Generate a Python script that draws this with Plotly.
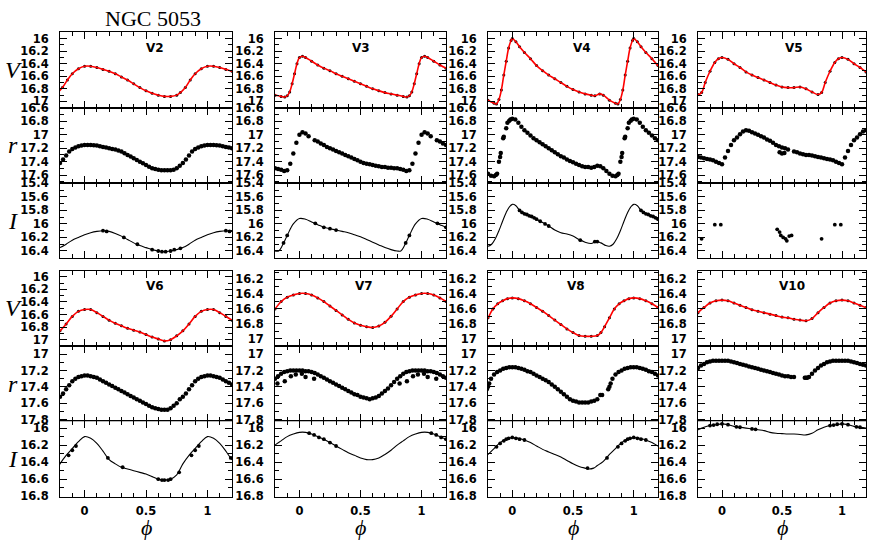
import plotly.graph_objects as go

# ---------------- data ----------------
G20 = [0.0, 0.05, 0.1, 0.15, 0.2, 0.25, 0.3, 0.35, 0.4, 0.45,
       0.5, 0.55, 0.6, 0.65, 0.7, 0.75, 0.8, 0.85, 0.9, 0.95]
R_PH = [0.0, 0.025, 0.05, 0.075, 0.1, 0.125, 0.15, 0.175, 0.2, 0.225,
        0.25, 0.275, 0.3, 0.325, 0.35, 0.375, 0.4, 0.425, 0.45, 0.475,
        0.5, 0.525, 0.55, 0.575, 0.6, 0.625, 0.65, 0.675, 0.7, 0.725,
        0.75, 0.775, 0.8, 0.825, 0.85, 0.875, 0.9, 0.925, 0.95, 0.975]

STAR_NAMES = ["V2", "V3", "V4", "V5", "V6", "V7", "V8", "V10"]
PHI_TICKS = [0, 0.5, 1]

# V2
V2_V_ph = [0.0, 0.05, 0.1, 0.15, 0.2, 0.25, 0.3, 0.35, 0.4, 0.45, 0.5, 0.55, 0.6, 0.65, 0.7, 0.75, 0.78, 0.82, 0.86, 0.9, 0.95]
V2_V = [16.44, 16.44, 16.46, 16.49, 16.52, 16.56, 16.61, 16.66, 16.72, 16.78, 16.83, 16.87, 16.90, 16.92, 16.92, 16.90, 16.86, 16.78, 16.66, 16.56, 16.48]
V2_r = [17.15, 17.15, 17.15, 17.155, 17.16, 17.17, 17.18, 17.19, 17.2, 17.21, 17.22, 17.235, 17.25, 17.275, 17.3, 17.325, 17.35, 17.375, 17.4, 17.425,
        17.45, 17.475, 17.5, 17.51, 17.52, 17.53, 17.53, 17.53, 17.53, 17.52, 17.5, 17.46, 17.42, 17.37, 17.31, 17.25, 17.21, 17.19, 17.17, 17.16]
V2_I_ph = G20
V2_I = [16.16, 16.13, 16.11, 16.10, 16.11, 16.14, 16.18, 16.23, 16.28, 16.32, 16.35, 16.38, 16.40, 16.41, 16.40, 16.38, 16.35, 16.30, 16.24, 16.20]
V2_Id_ph = [0.15, 0.18, 0.32, 0.43, 0.55, 0.6, 0.63, 0.66, 0.7, 0.73, 0.78]
V2_Id = [16.10, 16.11, 16.20, 16.30, 16.38, 16.40, 16.41, 16.41, 16.40, 16.38, 16.36]

# V3
V3_V_ph = [0.0, 0.025, 0.05, 0.1, 0.15, 0.2, 0.25, 0.3, 0.35, 0.4, 0.45, 0.5, 0.55, 0.6, 0.65, 0.7, 0.75, 0.8, 0.85, 0.88, 0.9, 0.92, 0.94, 0.96, 0.98]
V3_V = [16.30, 16.28, 16.30, 16.36, 16.42, 16.47, 16.51, 16.56, 16.60, 16.64, 16.68, 16.72, 16.76, 16.80, 16.83, 16.86, 16.88, 16.90, 16.92, 16.93, 16.91, 16.85, 16.72, 16.56, 16.40]
V3_r = [17.0, 16.96, 16.98, 17.02, None, 17.08, 17.1, 17.13, 17.15, 17.18, 17.2, 17.22, 17.24, 17.26, 17.28, 17.3, 17.32, 17.34, 17.36, 17.38,
        17.4, 17.42, 17.43, 17.44, 17.45, 17.46, 17.47, 17.48, 17.48, 17.49, 17.49, 17.5, 17.5, 17.51, 17.52, 17.54, 17.53, 17.43, 17.28, 17.12]
V3_I_ph = [0.0, 0.05, 0.1, 0.15, 0.2, 0.25, 0.3, 0.35, 0.4, 0.45, 0.5, 0.55, 0.6, 0.65, 0.7, 0.75, 0.8, 0.83, 0.86, 0.9, 0.95]
V3_I = [15.92, 15.93, 15.97, 16.01, 16.05, 16.07, 16.09, 16.11, 16.13, 16.16, 16.19, 16.23, 16.27, 16.31, 16.35, 16.38, 16.40, 16.40, 16.32, 16.17, 16.00]
V3_Id_ph = [0.13, 0.2, 0.25, 0.3, 0.87, 0.9]
V3_Id = [15.99, 16.05, 16.07, 16.09, 16.28, 16.17]

# V4
V4_V_ph = [0.0, 0.03, 0.06, 0.1, 0.15, 0.2, 0.25, 0.3, 0.35, 0.4, 0.45, 0.5, 0.55, 0.6, 0.65, 0.68, 0.72, 0.75, 0.8, 0.85, 0.87, 0.89, 0.91, 0.93, 0.95, 0.97, 0.99]
V4_V = [16.00, 16.05, 16.13, 16.22, 16.32, 16.43, 16.51, 16.58, 16.64, 16.70, 16.76, 16.81, 16.85, 16.88, 16.90, 16.91, 16.88, 16.90, 16.98, 17.03, 17.04, 16.97, 16.82, 16.58, 16.36, 16.15, 16.03]
V4_r = [16.76, 16.77, 16.82, 16.88, 16.93, 16.97, 17.01, 17.05, 17.08, 17.11, 17.14, 17.17, 17.2, 17.23, 17.26, 17.29, 17.32, 17.34, 17.37, 17.39,
        17.41, 17.43, 17.45, 17.47, 17.48, 17.48, 17.49, 17.48, 17.46, 17.47, 17.50, 17.54, 17.58, 17.61, 17.62, 17.58, 17.33, 17.05, 16.90, 16.79]
V4_rx_ph = [0.865, 0.89, 0.905, 0.93, 0.96, 0.985]
V4_rx = [17.60, 17.40, 17.27, 17.03, 16.82, 16.77]
V4_I_ph = [0.0, 0.03, 0.06, 0.1, 0.15, 0.2, 0.25, 0.3, 0.35, 0.4, 0.45, 0.5, 0.55, 0.6, 0.65, 0.69, 0.73, 0.77, 0.8, 0.83, 0.86, 0.89, 0.92, 0.95, 0.975]
V4_I = [15.71, 15.73, 15.80, 15.85, 15.89, 15.93, 15.98, 16.03, 16.09, 16.13, 16.15, 16.18, 16.23, 16.27, 16.29, 16.26, 16.28, 16.32, 16.33, 16.30, 16.22, 16.10, 15.96, 15.83, 15.75]
V4_Id_ph = [0.06, 0.08, 0.1, 0.12, 0.14, 0.16, 0.18, 0.2, 0.23, 0.27, 0.3, 0.56, 0.68, 0.7]
V4_Id = [15.80, 15.83, 15.85, 15.86, 15.88, 15.89, 15.91, 15.93, 15.96, 16.0, 16.03, 16.24, 16.26, 16.26]

# V5
V5_V_ph = [0.0, 0.05, 0.1, 0.15, 0.2, 0.25, 0.3, 0.35, 0.4, 0.45, 0.5, 0.55, 0.6, 0.65, 0.7, 0.75, 0.8, 0.83, 0.86, 0.9, 0.94, 0.97]
V5_V = [16.30, 16.33, 16.40, 16.46, 16.53, 16.58, 16.62, 16.66, 16.70, 16.74, 16.77, 16.78, 16.78, 16.77, 16.80, 16.85, 16.89, 16.86, 16.70, 16.52, 16.38, 16.32]
V5_r = [17.44, 17.34, 17.24, 17.15, 17.08, 17.04, 16.99, 16.95, 16.93, 16.94, 16.96, 16.98, 17.0, 17.02, 17.04, 17.07, 17.09, 17.12, 17.15, 17.17,
        17.19, 17.2, 17.22, None, 17.25, 17.26, 17.28, 17.29, 17.3, 17.3, 17.31, 17.32, 17.33, 17.34, 17.35, 17.36, 17.37, 17.38, 17.40, 17.42]
V5_rx_ph = [0.48, 0.5, 0.52]
V5_rx = [17.26, 17.28, 17.27]
V5_Id_ph = [0.83, 0.94, 0.99, 0.46, 0.48, 0.49, 0.51, 0.53, 0.54, 0.56, 0.58]
V5_Id = [16.22, 16.01, 16.01, 16.08, 16.12, 16.17, 16.20, 16.22, 16.25, 16.18, 16.17]

# V6
V6_V = [16.52, 16.52, 16.57, 16.63, 16.69, 16.74, 16.78, 16.82, 16.85, 16.88, 16.92, 16.96, 16.99, 17.02, 17.0, 16.94, 16.86, 16.75, 16.63, 16.55]
V6_r = [17.26, 17.26, 17.27, 17.28, 17.29, 17.31, 17.33, 17.35, 17.37, 17.39, 17.41, 17.43, 17.45, 17.47, 17.49, 17.51, 17.53, 17.55, 17.57, 17.59,
        17.61, 17.63, 17.65, 17.66, 17.67, 17.68, 17.68, 17.68, 17.66, 17.63, 17.6, 17.55, 17.52, 17.48, 17.43, 17.38, 17.33, 17.3, 17.28, 17.27]
V6_I = [16.10, 16.12, 16.18, 16.27, 16.37, 16.42, 16.46, 16.48, 16.50, 16.52, 16.54, 16.57, 16.60, 16.61, 16.60, 16.55, 16.42, 16.32, 16.24, 16.16]
V6_Id_ph = [0.87, 0.9, 0.93, 0.19, 0.31, 0.6, 0.63, 0.65, 0.68, 0.7, 0.77]
V6_Id = [16.32, 16.26, 16.21, 16.35, 16.46, 16.60, 16.61, 16.61, 16.61, 16.60, 16.52]

# V7
V7_V = [16.39, 16.39, 16.41, 16.45, 16.50, 16.56, 16.62, 16.68, 16.74, 16.79, 16.82, 16.84, 16.85, 16.83, 16.78, 16.70, 16.60, 16.50, 16.44, 16.41]
V7_r = [17.2, 17.2, 17.21, 17.21, 17.22, 17.23, 17.25, 17.27, 17.29, 17.31, 17.33, 17.35, 17.37, 17.39, 17.41, 17.43, 17.45, 17.47, 17.49, 17.5,
        17.52, 17.53, 17.54, 17.55, 17.54, 17.53, 17.51, 17.48, 17.45, 17.42, 17.38, 17.34, 17.3, 17.27, 17.24, 17.22, 17.21, 17.2, 17.2, 17.2]
V7_rx_ph = [0.02, 0.05, 0.12, 0.82, 0.88, 0.93, 0.97]
V7_rx = [17.24, 17.28, 17.30, 17.36, 17.33, 17.27, 17.25]
V7_I = [16.05, 16.05, 16.07, 16.10, 16.13, 16.17, 16.21, 16.25, 16.29, 16.32, 16.35, 16.37, 16.37, 16.35, 16.31, 16.26, 16.20, 16.15, 16.10, 16.07]
V7_Id_ph = [0.08, 0.12, 0.16, 0.2, 0.25, 0.3]
V7_Id = [16.06, 16.08, 16.11, 16.13, 16.17, 16.21]

# V8
V8_V_ph = [0.0, 0.05, 0.1, 0.15, 0.2, 0.25, 0.3, 0.35, 0.4, 0.45, 0.5, 0.55, 0.6, 0.65, 0.7, 0.73, 0.76, 0.8, 0.84, 0.88, 0.92, 0.96]
V8_V = [16.45, 16.46, 16.49, 16.53, 16.58, 16.63, 16.69, 16.75, 16.81, 16.87, 16.92, 16.96, 16.97, 16.97, 16.96, 16.92, 16.84, 16.72, 16.60, 16.53, 16.49, 16.46]
V8_r = [17.16, 17.16, 17.17, 17.18, 17.19, 17.21, 17.22, 17.24, 17.26, 17.28, 17.3, 17.32, 17.34, 17.37, 17.4, 17.43, 17.46, 17.49, 17.52, 17.55,
        17.57, 17.58, 17.59, 17.59, 17.59, 17.59, 17.58, 17.57, 17.55, 17.5, None, None, 17.4, 17.3, 17.25, 17.22, 17.2, 17.18, 17.17, 17.16]
V8_rx_ph = [0.74, 0.79, 0.81]
V8_rx = [17.50, 17.43, 17.36]
V8_I_ph = [0.0, 0.05, 0.1, 0.15, 0.2, 0.25, 0.3, 0.35, 0.4, 0.45, 0.5, 0.55, 0.6, 0.63, 0.67, 0.7, 0.75, 0.8, 0.85, 0.9, 0.95]
V8_I = [16.11, 16.12, 16.14, 16.17, 16.21, 16.25, 16.28, 16.31, 16.34, 16.38, 16.42, 16.45, 16.47, 16.48, 16.47, 16.44, 16.39, 16.31, 16.24, 16.17, 16.13]
V8_Id_ph = [0.87, 0.9, 0.93, 0.95, 0.97, 0.0, 0.03, 0.06, 0.1, 0.62, 0.78]
V8_Id = [16.22, 16.18, 16.15, 16.13, 16.12, 16.11, 16.12, 16.13, 16.14, 16.47, 16.35]

# V10
V10_V = [16.48, 16.49, 16.52, 16.55, 16.58, 16.61, 16.63, 16.65, 16.67, 16.69, 16.71, 16.72, 16.74, 16.75, 16.76, 16.73, 16.65, 16.58, 16.52, 16.49]
V10_r = [17.08, 17.08, 17.08, 17.09, 17.1, 17.11, 17.12, 17.13, 17.14, 17.15, 17.16, 17.17, 17.18, 17.19, 17.2, 17.21, 17.22, 17.23, 17.24, 17.25,
         17.26, 17.27, 17.27, 17.28, 17.28, None, None, None, 17.29, 17.28, 17.24, 17.2, 17.17, 17.14, 17.12, 17.1, 17.09, 17.08, 17.08, 17.08]
V10_rx_ph = [0.69, 0.71]
V10_rx = [17.29, 17.29]
V10_I = [15.95, 15.96, 15.98, 15.99, 16.0, 16.01, 16.02, 16.03, 16.05, 16.06, 16.065, 16.07, 16.07, 16.075, 16.08, 16.06, 16.02, 15.99, 15.97, 15.96]
V10_Id_ph = [0.9, 0.93, 0.96, 0.0, 0.05, 0.12, 0.15, 0.25, 0.28]
V10_Id = [15.97, 15.965, 15.955, 15.95, 15.96, 15.985, 15.99, 16.01, 16.015]

# axis ranges per block (bottom value, top value; magnitudes increase downward)
TOP_V_RANGE = [17.1, 15.9]
TOP_R_RANGE = [17.72, 16.595]
TOP_I_RANGE = [16.51, 15.395]
BOT_V_RANGE_C1 = [17.1, 15.9]
BOT_V_RANGE = [17.1, 16.08]
BOT_R_RANGE = [17.82, 16.9]
BOT_I_RANGE = [16.805, 15.92]
PHI_RANGE = [-0.2, 1.2]

STARS = [
    dict(name="V2", V=(V2_V_ph, V2_V), r=(R_PH, V2_r), rx=None, I=(V2_I_ph, V2_I), Id=(V2_Id_ph, V2_Id), lx=0.55),
    dict(name="V3", V=(V3_V_ph, V3_V), r=(R_PH, V3_r), rx=None, I=(V3_I_ph, V3_I), Id=(V3_Id_ph, V3_Id), lx=0.50),
    dict(name="V4", V=(V4_V_ph, V4_V), r=(R_PH, V4_r), rx=(V4_rx_ph, V4_rx), I=(V4_I_ph, V4_I), Id=(V4_Id_ph, V4_Id), lx=0.55),
    dict(name="V5", V=(V5_V_ph, V5_V), r=(R_PH, V5_r), rx=(V5_rx_ph, V5_rx), I=None, Id=(V5_Id_ph, V5_Id), lx=0.57),
    dict(name="V6", V=(G20, V6_V), r=(R_PH, V6_r), rx=None, I=(G20, V6_I), Id=(V6_Id_ph, V6_Id), lx=0.55),
    dict(name="V7", V=(G20, V7_V), r=(R_PH, V7_r), rx=(V7_rx_ph, V7_rx), I=(G20, V7_I), Id=(V7_Id_ph, V7_Id), lx=0.52),
    dict(name="V8", V=(V8_V_ph, V8_V), r=(R_PH, V8_r), rx=(V8_rx_ph, V8_rx), I=(V8_I_ph, V8_I), Id=(V8_Id_ph, V8_Id), lx=0.52),
    dict(name="V10", V=(G20, V10_V), r=(R_PH, V10_r), rx=(V10_rx_ph, V10_rx), I=(G20, V10_I), Id=(V10_Id_ph, V10_Id), lx=0.56),
]

# ---------------- layout geometry (pixels) ----------------
W, H = 872, 545
COL_L = [60, 275, 488, 698]
COL_W = [172, 171, 170, 168]
BLOCK_TOP = [26, 270.5]
PANEL_H = 77.35


def wrap(ph, mag):
    pts = []
    for p, m in zip(ph, mag):
        if m is None:
            continue
        for s in (-1, 0, 1):
            q = p + s
            if -0.3 <= q <= 1.3:
                pts.append((q, m))
    pts.sort()
    return [a for a, b in pts], [b for a, b in pts]


fig = go.Figure()
layout = dict(width=W, height=H, margin=dict(l=0, r=0, t=0, b=0), autosize=False,
              paper_bgcolor="white", plot_bgcolor="white", showlegend=False)
annotations = []
TICKFONT = dict(family="DejaVu Sans", size=11.5, color="black", weight="bold")

ax = 0
for si, st in enumerate(STARS):
    blk = si // 4
    col = si % 4
    x0 = COL_L[col] / W
    x1 = (COL_L[col] + COL_W[col]) / W
    for pi, band in enumerate(["V", "r", "I"]):
        ax += 1
        ytop = BLOCK_TOP[blk] + pi * PANEL_H
        ybot = ytop + PANEL_H
        xa = "x" if ax == 1 else f"x{ax}"
        ya = "y" if ax == 1 else f"y{ax}"
        if blk == 0:
            yr = [TOP_V_RANGE, TOP_R_RANGE, TOP_I_RANGE][pi]
        else:
            yr = [BOT_V_RANGE_C1 if col == 0 else BOT_V_RANGE, BOT_R_RANGE, BOT_I_RANGE][pi]
        show_x = (blk == 1 and pi == 2)
        layout["xaxis" if ax == 1 else f"xaxis{ax}"] = dict(
            domain=[x0, x1], anchor=ya, range=PHI_RANGE, showgrid=False, zeroline=False,
            showline=True, linecolor="black", linewidth=1, mirror="ticks",
            ticks="inside", ticklen=7, tickwidth=1, tickcolor="black",
            tickvals=PHI_TICKS, ticktext=["0", "0.5", "1"], showticklabels=show_x,
            tickfont=TICKFONT, ticklabelstandoff=4,
            minor=dict(ticks="inside", ticklen=4, tickwidth=1, tickcolor="black", dtick=0.1, tick0=0, showgrid=False),
        )
        layout["yaxis" if ax == 1 else f"yaxis{ax}"] = dict(
            domain=[(H - ybot) / H, (H - ytop) / H], anchor=xa, range=yr,
            showgrid=False, zeroline=False, showline=True, linecolor="black", linewidth=1,
            mirror="ticks", ticks="inside", ticklen=7, tickwidth=1, tickcolor="black",
            dtick=0.2, tick0=0, tickfont=TICKFONT, ticklabelstandoff=8,
            minor=dict(ticks="inside", ticklen=4, tickwidth=1, tickcolor="black", dtick=0.1, tick0=0, showgrid=False),
        )
        if band == "V":
            px_, py_ = wrap(*st["V"])
            fig.add_trace(go.Scatter(x=px_, y=py_, xaxis=xa, yaxis=ya, mode="markers",
                                     marker=dict(size=3, color="black"), cliponaxis=True))
            fig.add_trace(go.Scatter(x=px_, y=py_, xaxis=xa, yaxis=ya, mode="lines",
                                     line=dict(color="#ff0000", width=1.6, shape="spline", smoothing=1.0)))
            annotations.append(dict(text=st["name"], xref=f"{xa} domain", yref=f"{ya} domain",
                                    x=st["lx"], y=0.79, showarrow=False, xanchor="center", yanchor="middle",
                                    font=dict(family="DejaVu Sans", size=12, color="black", weight="bold")))
        elif band == "r":
            px_, py_ = wrap(*st["r"])
            fig.add_trace(go.Scatter(x=px_, y=py_, xaxis=xa, yaxis=ya, mode="markers",
                                     marker=dict(size=4.5, color="black")))
            if st["rx"] is not None:
                px_, py_ = wrap(*st["rx"])
                fig.add_trace(go.Scatter(x=px_, y=py_, xaxis=xa, yaxis=ya, mode="markers",
                                         marker=dict(size=4.5, color="black")))
        else:
            if st["I"] is not None:
                px_, py_ = wrap(*st["I"])
                fig.add_trace(go.Scatter(x=px_, y=py_, xaxis=xa, yaxis=ya, mode="lines",
                                         line=dict(color="black", width=1.1, shape="spline", smoothing=1.0)))
            px_, py_ = wrap(*st["Id"])
            fig.add_trace(go.Scatter(x=px_, y=py_, xaxis=xa, yaxis=ya, mode="markers",
                                     marker=dict(size=3.8, color="black")))
        if col == 0:
            annotations.append(dict(text=band, xref="paper", yref="paper", x=13 / W,
                                    y=(H - (ytop + ybot) / 2) / H, showarrow=False,
                                    xanchor="center", yanchor="middle",
                                    font=dict(family="Liberation Serif", size=24, color="black", style="italic")))

for col in range(4):
    annotations.append(dict(text="ϕ", xref="paper", yref="paper",
                            x=(COL_L[col] + COL_W[col] / 2) / W, y=(H - 534) / H, showarrow=False,
                            xanchor="center", yanchor="middle",
                            font=dict(family="Liberation Serif", size=22, color="black", style="italic")))

annotations.append(dict(text="NGC 5053", xref="paper", yref="paper", x=153 / W, y=(H - 12) / H,
                        showarrow=False, xanchor="center", yanchor="middle",
                        font=dict(family="Liberation Serif", size=22, color="black")))

layout["annotations"] = annotations
fig.update_layout(**layout)
fig.write_html("out.html", config={"displayModeBar": False},
               post_script="document.body.style.margin='0px';document.body.style.overflow='hidden';")
